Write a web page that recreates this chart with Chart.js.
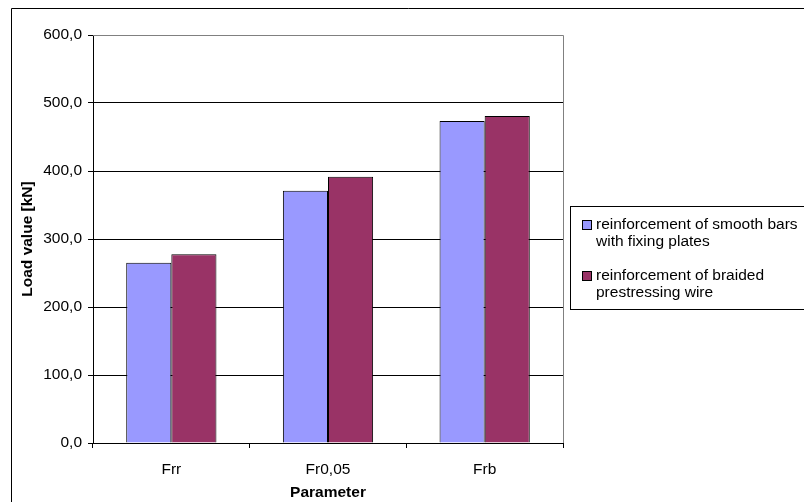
<!DOCTYPE html>
<html>
<head>
<meta charset="utf-8">
<script src="https://cdn.jsdelivr.net/npm/chart.js@4"></script>
<style>
  body { margin: 0; background: #fff; }
  #wrap { width: 804px; height: 502px; position: relative; }
</style>
</head>
<body>
<div id="wrap"><canvas id="myChart"></canvas></div>
<script>
const categories = ["Frr", "Fr0,05", "Frb"];
const smoothBars = [265, 371, 473.5];
const braidedWire = [277.5, 391.5, 481];
const seriesNames = [
  ["reinforcement of smooth bars", "with fixing plates"],
  ["reinforcement of braided", "prestressing wire"],
];
const yTicks = [0, 100, 200, 300, 400, 500, 600];

const font = "'Liberation Sans', Arial, sans-serif";

// frame + legend box, drawn like the old excel chart
const excelLegend = {
  id: "excelLegend",
  afterDraw(chart) {
    const ctx = chart.ctx;
    ctx.save();
    // outer chart frame (only top and left are visible)
    ctx.strokeStyle = "#000";
    ctx.lineWidth = 1;
    ctx.beginPath();
    ctx.moveTo(11.5, 510);
    ctx.lineTo(11.5, 8.5);
    ctx.lineTo(810, 8.5);
    ctx.stroke();

    // plot area border right/top
    const a = chart.chartArea;
    ctx.strokeStyle = "#808080";
    ctx.beginPath();
    ctx.moveTo(a.left, a.top + 0.5);
    ctx.lineTo(a.right + 0.5, a.top + 0.5);
    ctx.lineTo(a.right + 0.5, a.bottom);
    ctx.stroke();

    // legend box
    ctx.strokeStyle = "#000";
    ctx.strokeRect(570.5, 206.5, 250, 103);
    ctx.font = "15.5px " + font;
    ctx.textBaseline = "middle";
    ctx.fillStyle = "#000";
    const starts = [225, 276];
    chart.data.datasets.forEach((ds, i) => {
      const y = starts[i];
      ctx.fillStyle = ds.backgroundColor;
      ctx.fillRect(582, y - 5, 10, 10);
      ctx.strokeStyle = "#000";
      ctx.strokeRect(582.5, y - 4.5, 9, 9);
      ctx.fillStyle = "#000";
      seriesNames[i].forEach((line, j) => {
        ctx.fillText(line, 596, y + j * 17);
      });
    });
    ctx.restore();
  },
};

const data = {
  labels: categories,
  datasets: [
    {
      label: seriesNames[0].join(" "),
      backgroundColor: "#9999FF",
      borderColor: "#000",
      borderWidth: 1,
      data: smoothBars,
    },
    {
      label: seriesNames[1].join(" "),
      backgroundColor: "#993366",
      borderColor: "#000",
      borderWidth: 1,
      data: braidedWire,
    },
  ],
};

const config = {
  type: "bar",
  data: data,
  options: {
    responsive: true,
    maintainAspectRatio: false,
    animation: false,
    layout: {
      padding: { left: 18, right: 241, top: 35, bottom: 0 },
    },
    datasets: {
      bar: {
        barPercentage: 1,
        categoryPercentage: 0.576,
      },
    },
    scales: {
      x: {
        afterFit(scale) {
          scale.height = 59;
        },
        grid: {
          display: true,
          drawOnChartArea: false,
          offset: true,
          tickLength: 5,
          color: "#000",
        },
        border: { display: true, color: "#000" },
        ticks: {
          color: "#000",
          padding: 12,
          font: { size: 15.5, family: font },
        },
        title: {
          display: true,
          text: "Parameter",
          color: "#000",
          padding: { top: 4, bottom: 0 },
          font: { size: 15.5, family: font, weight: "bold" },
        },
      },
      y: {
        min: 0,
        max: 600,
        afterFit(scale) {
          scale.width = 75;
        },
        afterBuildTicks(scale) {
          scale.ticks = yTicks.map((v) => ({ value: v }));
        },
        grid: {
          color: "#000",
          tickLength: 5,
        },
        border: { display: true, color: "#000" },
        ticks: {
          color: "#000",
          padding: 6,
          font: { size: 15.5, family: font },
          callback: (v) => v.toFixed(1).replace(".", ","),
        },
        title: {
          display: true,
          text: "Load value [kN]",
          color: "#000",
          padding: { top: 0, bottom: 4 },
          font: { size: 15.5, family: font, weight: "bold" },
        },
      },
    },
    plugins: {
      legend: { display: false },
      tooltip: { enabled: false },
    },
  },
  plugins: [excelLegend],
};

const myChart = new Chart(document.getElementById("myChart"), config);
</script>
</body>
</html>
